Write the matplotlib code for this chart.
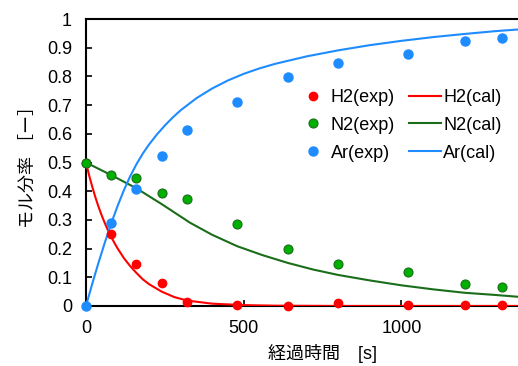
import matplotlib
matplotlib.use("Agg")
import matplotlib.pyplot as plt
from matplotlib.ticker import FormatStrFormatter

plt.rcParams['font.family'] = ['Liberation Sans', 'Noto Sans CJK JP']
plt.rcParams['font.size'] = 13

# 実験値
t_exp = [0, 80, 160, 240, 320, 480, 640, 800, 1020, 1200, 1320]
h2_exp = [0.5, 0.251, 0.145, 0.080, 0.014, 0.002, 0.0, 0.009, 0.002, 0.002, 0.002]
n2_exp = [0.5, 0.458, 0.445, 0.395, 0.373, 0.287, 0.200, 0.145, 0.117, 0.075, 0.065]
ar_exp = [0.0, 0.289, 0.409, 0.524, 0.613, 0.712, 0.798, 0.846, 0.879, 0.925, 0.934]

# 計算値
t_h2_cal = [0, 10, 20, 30, 40, 50, 60, 70, 80, 90, 100, 120, 140, 160, 180, 200, 240, 280,
            320, 400, 500, 600, 800, 1000, 1500]
h2_cal = [0.5, 0.455, 0.415, 0.378, 0.345, 0.315, 0.288, 0.263, 0.241, 0.22, 0.201, 0.167,
          0.139, 0.115, 0.093, 0.076, 0.05, 0.031, 0.019, 0.008, 0.003, 0.001, 0.0, 0.0, 0.0]

t_n2_cal = [0, 80, 160, 240, 330, 400, 480, 560, 640, 720, 800, 900, 1000, 1100, 1200, 1290,
            1370, 1500]
n2_cal = [0.5, 0.456, 0.41, 0.355, 0.29, 0.248, 0.208, 0.177, 0.15, 0.127, 0.108, 0.089,
          0.072, 0.058, 0.046, 0.039, 0.032, 0.025]

t_ar_cal = [0, 20, 40, 60, 80, 100, 120, 140, 160, 180, 200, 225, 250, 275, 300, 350, 400,
            450, 500, 550, 600, 700, 800, 900, 1000, 1100, 1200, 1300, 1400, 1500]
ar_cal = [0.0, 0.078, 0.152, 0.222, 0.288, 0.348, 0.403, 0.452, 0.494, 0.531, 0.563, 0.598,
          0.629, 0.657, 0.682, 0.724, 0.758, 0.786, 0.809, 0.828, 0.844, 0.870, 0.891, 0.909,
          0.924, 0.937, 0.948, 0.958, 0.966, 0.973]

x_ticks = [0, 500, 1000]

RED = '#FF0000'
GREEN_DOT = '#00B000'
GREEN_LINE = '#1A6E1A'
BLUE = '#1E8CFF'

fig = plt.figure(figsize=(5.18, 3.66), dpi=100)
# 横軸は0〜1500、右側は画像の外にはみ出す
ax = fig.add_axes([0.166, 0.164, 0.9135, 0.784])

h1, = ax.plot(t_exp, h2_exp, 'o', color=RED, ms=6, mec=RED, clip_on=False, zorder=5, label='H2(exp)')
h2, = ax.plot(t_exp, n2_exp, 'o', color=GREEN_DOT, ms=6.5, mec='#1A6E1A', mew=0.8,
              clip_on=False, zorder=5, label='N2(exp)')
h3, = ax.plot(t_exp, ar_exp, 'o', color=BLUE, ms=6.5, mec=BLUE, clip_on=False, zorder=6, label='Ar(exp)')
l1, = ax.plot(t_h2_cal, h2_cal, '-', color=RED, lw=1.5, zorder=3, label='H2(cal)')
l2, = ax.plot(t_n2_cal, n2_cal, '-', color=GREEN_LINE, lw=1.5, zorder=3, label='N2(cal)')
l3, = ax.plot(t_ar_cal, ar_cal, '-', color=BLUE, lw=1.5, zorder=3, label='Ar(cal)')

ax.set_xlim(0, 1500)
ax.set_ylim(0, 1)
ax.set_xticks(x_ticks)
ax.set_yticks([i / 10 for i in range(11)])
ax.yaxis.set_major_formatter(FormatStrFormatter('%g'))
ax.tick_params(direction='in', length=4.5, width=1.2, pad=10, colors='black')
ax.tick_params(axis='x', pad=10)
for s in ['left', 'top', 'bottom']:
    ax.spines[s].set_linewidth(1.5)
ax.spines['right'].set_visible(False)

ax.set_xlabel('経過時間　[s]', labelpad=5)
ax.set_ylabel('モル分率 ［ー］', labelpad=7)

fig.legend([h1, h2, h3, l1, l2, l3],
           ['H2(exp)', 'N2(exp)', 'Ar(exp)', 'H2(cal)', 'N2(cal)', 'Ar(cal)'],
           ncol=2, frameon=False, loc='upper left', bbox_to_anchor=(0.573, 0.757),
           borderpad=0, borderaxespad=0, handlelength=1.75, handletextpad=0.12,
           columnspacing=0.8, labelspacing=0.6, fontsize=13)

fig.savefig('out.png', dpi=100)
